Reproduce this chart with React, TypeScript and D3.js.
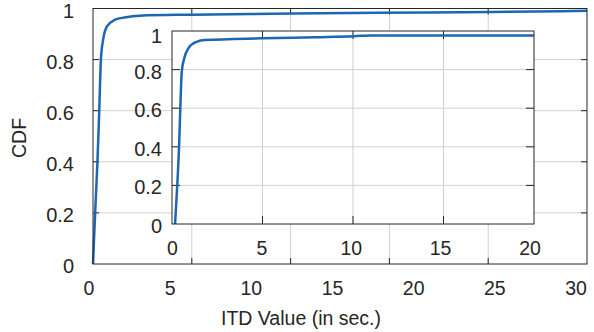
import React from "react";
import * as d3 from "d3";

// Empirical CDF of ITD values (seconds), full range
const mainX = [0, 0.13, 0.27, 0.38, 0.48, 0.62, 0.85, 1.3, 2.0, 2.85, 6.0, 12.1, 17.4, 24.1, 30];
const mainY = [0, 0.2, 0.4, 0.6, 0.8, 0.88, 0.93, 0.955, 0.966, 0.972, 0.976, 0.98, 0.983, 0.986, 0.991];

// Zoomed CDF shown in the inset (0-20 s)
const insetX = [0.17, 0.29, 0.39, 0.46, 0.54, 0.68, 0.9, 1.36, 1.82, 4.96, 8.0, 10.06, 11.0, 20];
const insetY = [0, 0.2, 0.4, 0.6, 0.79, 0.86, 0.91, 0.944, 0.953, 0.962, 0.968, 0.973, 0.977, 0.977];

const mainXLabels = [0, 5, 10, 15, 20, 25, 30];
const mainXGrid = [6, 12, 18, 24];
const yTicks = [0, 0.2, 0.4, 0.6, 0.8, 1];
const yGrid = [0.2, 0.4, 0.6, 0.8];
const insetXTicks = [0, 5, 10, 15, 20];
const insetXGrid = [5, 10, 15];

const AXIS = "#262626";
const GRID = "#d0d0d0";
const LINE = "#1c66b2";
const FONT = "Liberation Sans, Arial, Helvetica, sans-serif";

export default function App() {
  // main axes
  const mx = d3.scaleLinear().domain([0, 30]).range([93, 587]);
  const my = d3.scaleLinear().domain([0, 1]).range([264, 8.5]);
  const mxLabel = d3.scaleLinear().domain([0, 30]).range([89, 576]);

  // inset axes
  const ix = d3.scaleLinear().domain([0, 20]).range([172, 534]);
  const iy = d3.scaleLinear().domain([0, 1]).range([224, 31]);
  const ixLabel = d3.scaleLinear().domain([0, 20]).range([172.5, 530]);

  const mainPts = mainX.map((x, i) => [x, mainY[i]] as [number, number]);
  const insetPts = insetX.map((x, i) => [x, insetY[i]] as [number, number]);

  const mainLine = d3
    .line<[number, number]>()
    .x((d) => mx(d[0]))
    .y((d) => my(d[1]))
    .curve(d3.curveMonotoneX);
  const insetLine = d3
    .line<[number, number]>()
    .x((d) => ix(d[0]))
    .y((d) => iy(d[1]))
    .curve(d3.curveMonotoneX);

  const [mL, mR] = mx.range();
  const [mB, mT] = my.range();
  const [iL, iR] = ix.range();
  const [iB, iT] = iy.range();
  const mTick = 6;
  const iTick = 8;

  return (
    <svg
      width={594}
      height={332}
      style={{ position: "absolute", left: 0, top: 0, background: "#fff" }}
      fontFamily={FONT}
    >
      <rect x={0} y={0} width={594} height={332} fill="#fff" />

      {/* main grid */}
      {mainXGrid.map((v) => (
        <line key={"mgx" + v} x1={mx(v)} x2={mx(v)} y1={mB} y2={mT} stroke={GRID} strokeWidth={1} />
      ))}
      {yGrid.map((v) => (
        <line key={"mgy" + v} x1={mL} x2={mR} y1={my(v)} y2={my(v)} stroke={GRID} strokeWidth={1} />
      ))}

      {/* main ticks */}
      {mainXGrid.map((v) => (
        <g key={"mtx" + v} stroke={AXIS} strokeWidth={1}>
          <line x1={mx(v)} x2={mx(v)} y1={mB} y2={mB - mTick} />
          <line x1={mx(v)} x2={mx(v)} y1={mT} y2={mT + mTick} />
        </g>
      ))}
      {yGrid.map((v) => (
        <g key={"mty" + v} stroke={AXIS} strokeWidth={1}>
          <line x1={mL} x2={mL + mTick} y1={my(v)} y2={my(v)} />
          <line x1={mR} x2={mR - mTick} y1={my(v)} y2={my(v)} />
        </g>
      ))}

      {/* main curve */}
      <path d={mainLine(mainPts) || ""} fill="none" stroke={LINE} strokeWidth={2.5} strokeLinejoin="round" />

      {/* main box */}
      <rect x={mL} y={mT} width={mR - mL} height={mB - mT} fill="none" stroke={AXIS} strokeWidth={1} />

      {/* main tick labels */}
      {mainXLabels.map((v) => (
        <text key={"mlx" + v} x={mxLabel(v)} y={288} textAnchor="middle" dominantBaseline="central" fontSize={19.5} fill={AXIS}>
          {v}
        </text>
      ))}
      {yTicks.map((v) => (
        <text key={"mly" + v} x={74} y={my(v) + 2} textAnchor="end" dominantBaseline="central" fontSize={20} fill={AXIS}>
          {v}
        </text>
      ))}

      {/* axis titles */}
      <text x={301} y={318} textAnchor="middle" dominantBaseline="central" fontSize={19.5} fill={AXIS}>
        ITD Value (in sec.)
      </text>
      <text
        transform="translate(19,138) rotate(-90)"
        textAnchor="middle"
        dominantBaseline="central"
        fontSize={19.5}
        fill={AXIS}
      >
        CDF
      </text>

      {/* inset */}
      <rect x={iL} y={iT} width={iR - iL} height={iB - iT} fill="#fff" />
      {insetXGrid.map((v) => (
        <line key={"igx" + v} x1={ix(v)} x2={ix(v)} y1={iB} y2={iT} stroke={GRID} strokeWidth={1} />
      ))}
      {yGrid.map((v) => (
        <line key={"igy" + v} x1={iL} x2={iR} y1={iy(v)} y2={iy(v)} stroke={GRID} strokeWidth={1} />
      ))}
      {insetXGrid.map((v) => (
        <g key={"itx" + v} stroke={AXIS} strokeWidth={1}>
          <line x1={ix(v)} x2={ix(v)} y1={iB} y2={iB - iTick} />
          <line x1={ix(v)} x2={ix(v)} y1={iT} y2={iT + iTick} />
        </g>
      ))}
      {yGrid.map((v) => (
        <g key={"ity" + v} stroke={AXIS} strokeWidth={1}>
          <line x1={iL} x2={iL + iTick} y1={iy(v)} y2={iy(v)} />
          <line x1={iR} x2={iR - iTick} y1={iy(v)} y2={iy(v)} />
        </g>
      ))}
      <path d={insetLine(insetPts) || ""} fill="none" stroke={LINE} strokeWidth={2.5} strokeLinejoin="round" />
      <rect x={iL} y={iT} width={iR - iL} height={iB - iT} fill="none" stroke={AXIS} strokeWidth={1} />

      {insetXTicks.map((v) => (
        <text key={"ilx" + v} x={ixLabel(v)} y={248} textAnchor="middle" dominantBaseline="central" fontSize={19.5} fill={AXIS}>
          {v}
        </text>
      ))}
      {yTicks.map((v) => (
        <text key={"ily" + v} x={162} y={iy(v) + (v === 1 ? 5 : 2)} textAnchor="end" dominantBaseline="central" fontSize={20} fill={AXIS}>
          {v}
        </text>
      ))}
    </svg>
  );
}
